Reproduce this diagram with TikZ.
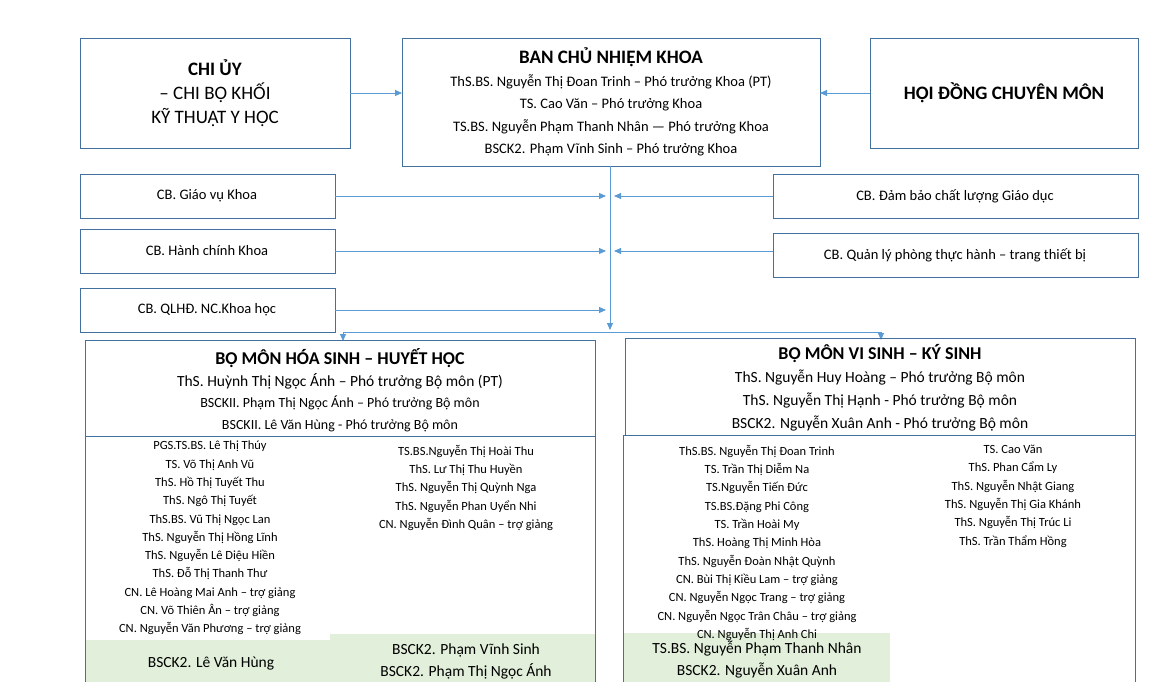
\documentclass[tikz,border=0pt]{standalone}
\usepackage{fontspec}
\setmainfont{Carlito}
\usetikzlibrary{arrows.meta}
\definecolor{edge}{HTML}{41719C}
\definecolor{wire}{HTML}{5B9BD5}
\definecolor{leaf}{HTML}{E2EFDA}
\tikzset{
  box/.style={draw=edge, line width=0.9pt, inner sep=0pt},
  conn/.style={draw=wire, line width=0.9pt, -{Triangle[length=7pt,width=6pt]}},
  list/.style={anchor=north, align=center, font=\fontsize{12.5}{18.3}\selectfont, inner sep=0pt}
}
\begin{document}
\begin{tikzpicture}[x=1pt, y=-1pt]
\useasboundingbox (0,0) rectangle (1152,682);
% top row
\draw[box] (80,38) rectangle (350,148);
\node (chiuy) at (215,93) [align=center, font=\fontsize{19}{24}\selectfont] {\textbf{CHI ỦY}\\– CHI BỘ KHỐI\\KỸ THUẬT Y HỌC};
\draw[box] (402,38) rectangle (820,166);
\node (bcn) at (611,102) [align=center, font=\fontsize{14.5}{22.5}\selectfont]
  {{\fontsize{19}{24}\selectfont\textbf{BAN CHỦ NHIỆM KHOA}}\\
   ThS.BS. Nguyễn Thị Đoan Trinh – Phó trưởng Khoa (PT)\\
   TS. Cao Văn – Phó trưởng Khoa\\
   TS.BS. Nguyễn Phạm Thanh Nhân — Phó trưởng Khoa\\
   BSCK2. Phạm Vĩnh Sinh – Phó trưởng Khoa};
\draw[box] (870,38) rectangle (1138,148);
\node (hoidong) at (1004,93) [font=\fontsize{19}{24}\selectfont\bfseries] {HỘI ĐỒNG CHUYÊN MÔN};
\coordinate (bcnL) at (402,93);
\coordinate (bcnR) at (820,93);
\coordinate (chiR) at (350,93);
\coordinate (hdL) at (870,93);
\draw[conn] (chiR) -- (bcnL);
\draw[conn] (hdL) -- (bcnR);
% staff boxes
\foreach \y/\t/\n in {174/CB. Giáo vụ Khoa/gv, 229/CB. Hành chính Khoa/hc, 288/CB. QLHĐ. NC.Khoa học/ql}{
  \draw[box] (80,\y) rectangle (335,\y+44);
  \node (\n) at (207,\y+22) [font=\fontsize{14.5}{18}\selectfont] {\t};
}
\foreach \y/\t/\n in {174/CB. Đảm bảo chất lượng Giáo dục/db, 233/CB. Quản lý phòng thực hành – trang thiết bị/tb}{
  \draw[box] (773,\y) rectangle (1138,\y+44);
  \node (\n) at (955,\y+22) [font=\fontsize{14.5}{18}\selectfont] {\t};
}
% trunk
\coordinate (top) at (610,166);
\coordinate (bot) at (610,330);
\draw[conn] (top) -- (bot);
\foreach \y in {196,251,310}
  \draw[conn] (335,\y) -- (606,\y);
\foreach \y in {196,251}
  \draw[conn] (773,\y) -- (614,\y);
\coordinate (split) at (343,332);
\coordinate (splitR) at (881,332);
\draw[draw=wire, line width=0.9pt] (split) -- (splitR);
\draw[conn] (split) -- ++(0,9);
\draw[conn] (splitR) -- ++(0,8);
% departments
\fill[leaf] (85,640) -- (330,640) -- (330,634) -- (595,634) -- (595,682) -- (85,682) -- cycle;
\fill[leaf] (623,633) rectangle (890,682);
\draw[box] (85,340) rectangle (595,436);
\draw[box] (85,436) rectangle (595,690);
\draw[box] (625,338) rectangle (1135,435);
\draw[box] (623,435) rectangle (1135,690);
\node (hoasinh) at (340,390) [align=center, font=\fontsize{14}{21.5}\selectfont]
  {{\fontsize{18}{22}\selectfont\textbf{BỘ MÔN HÓA SINH – HUYẾT HỌC}}\\
   {\fontsize{15.5}{20}\selectfont ThS. Huỳnh Thị Ngọc Ánh – Phó trưởng Bộ môn (PT)}\\
   BSCKII. Phạm Thị Ngọc Ánh – Phó trưởng Bộ môn\\
   BSCKII. Lê Văn Hùng - Phó trưởng Bộ môn};
\node (visinh) at (880,388) [align=center, font=\fontsize{15.5}{23}\selectfont]
  {{\fontsize{18}{22}\selectfont\textbf{BỘ MÔN VI SINH – KÝ SINH}}\\
   ThS. Nguyễn Huy Hoàng – Phó trưởng Bộ môn\\
   ThS. Nguyễn Thị Hạnh - Phó trưởng Bộ môn\\
   BSCK2. Nguyễn Xuân Anh - Phó trưởng Bộ môn};
% member lists
\node (hsA) at (210,441) [list] {PGS.TS.BS. Lê Thị Thúy\\TS. Võ Thị Anh Vũ\\ThS. Hồ Thị Tuyết Thu\\ThS. Ngô Thị Tuyết\\ThS.BS. Vũ Thị Ngọc Lan\\ThS. Nguyễn Thị Hồng Lĩnh\\ThS. Nguyễn Lê Diệu Hiền\\ThS. Đỗ Thị Thanh Thư\\CN. Lê Hoàng Mai Anh – trợ giảng\\CN. Võ Thiên Ân – trợ giảng\\CN. Nguyễn Văn Phương – trợ giảng};
\node (hsB) at (466,445) [list] {TS.BS.Nguyễn Thị Hoài Thu\\ThS. Lư Thị Thu Huyền\\ThS. Nguyễn Thị Quỳnh Nga\\ThS. Nguyễn Phan Uyển Nhi\\CN. Nguyễn Đình Quân – trợ giảng};
\node (vsA) at (757,445) [list] {ThS.BS. Nguyễn Thị Đoan Trinh\\TS. Trần Thị Diễm Na\\TS.Nguyễn Tiến Đức\\TS.BS.Đặng Phi Công\\TS. Trần Hoài My\\ThS. Hoàng Thị Minh Hòa\\ThS. Nguyễn Đoàn Nhật Quỳnh\\CN. Bùi Thị Kiều Lam – trợ giảng\\CN. Nguyễn Ngọc Trang – trợ giảng\\CN. Nguyễn Ngọc Trân Châu – trợ giảng\\CN. Nguyễn Thị Anh Chi};
\node (vsB) at (1013,445) [list] {TS. Cao Văn\\ThS. Phan Cẩm Ly\\ThS. Nguyễn Nhật Giang\\ThS. Nguyễn Thị Gia Khánh\\ThS. Nguyễn Thị Trúc Li\\ThS. Trần Thẩm Hồng};
% heads
\node (hsHa) at (211,664) [font=\fontsize{15.5}{20}\selectfont] {BSCK2. Lê Văn Hùng};
\node (hsHb) at (466,661) [align=center, font=\fontsize{15.5}{22}\selectfont] {BSCK2. Phạm Vĩnh Sinh\\BSCK2. Phạm Thị Ngọc Ánh};
\node (vsH) at (757,660) [align=center, font=\fontsize{15.5}{22}\selectfont] {TS.BS. Nguyễn Phạm Thanh Nhân\\BSCK2. Nguyễn Xuân Anh};
\end{tikzpicture}
\end{document}
